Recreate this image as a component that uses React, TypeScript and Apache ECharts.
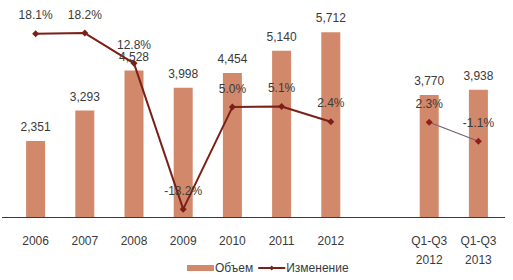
import React, { useEffect, useRef } from "react";
import * as echarts from "echarts";

const categories = ["2006", "2007", "2008", "2009", "2010", "2011", "2012", "", "Q1-Q3\n2012", "Q1-Q3\n2013"];
const volume: (number | string)[] = [2351, 3293, 4528, 3998, 4454, 5140, 5712, "-", 3770, 3938];
const changeYearly: (number | string)[] = [18.1, 18.2, 12.8, -13.2, 5.0, 5.1, 2.4, "-", "-", "-"];
const changeQuarterly: (number | string)[] = ["-", "-", "-", "-", "-", "-", "-", "-", 2.3, -1.1];

const FONT = "'Liberation Sans', Arial, sans-serif";
const TEXT = "#3a3a3a";

export default function App() {
  const ref = useRef<HTMLDivElement>(null);
  useEffect(() => {
    if (!ref.current) return;
    const chart = echarts.init(ref.current, null, { renderer: "svg" });
    chart.setOption({
      animation: false,
      textStyle: { fontFamily: FONT },
      grid: { left: 11, right: 10, top: 23, bottom: 63 },
      legend: {
        left: 182,
        top: 257,
        itemWidth: 27,
        itemHeight: 6,
        itemGap: 4,
        textStyle: { fontFamily: FONT, fontSize: 12, color: TEXT, padding: [0, 0, 0, -4] },
        data: [
          { name: "Объем", icon: "rect" },
          { name: "Изменение" },
        ],
      },
      xAxis: {
        type: "category",
        data: categories,
        axisTick: { show: false },
        axisLine: { show: false },
        axisLabel: {
          interval: 0,
          margin: 14,
          fontSize: 12,
          lineHeight: 19,
          color: TEXT,
          fontFamily: FONT,
        },
      },
      yAxis: [
        { type: "value", min: 0, max: 6000, show: false, splitLine: { show: false } },
        { type: "value", min: -14.6, max: 20, show: false, splitLine: { show: false } },
      ],
      graphic: [
        {
          type: "line",
          shape: { x1: 2, y1: 217.5, x2: 505, y2: 217.5 },
          style: { stroke: "#3a3a3a", lineWidth: 1.2 },
          z: 10,
        },
      ],
      series: [
        {
          name: "Объем",
          type: "bar",
          data: volume,
          barWidth: 19,
          itemStyle: { color: "#D2896B" },
          label: {
            show: true,
            position: "top",
            distance: 8,
            fontSize: 12,
            color: TEXT,
            fontFamily: FONT,
            formatter: (p: any) => Number(p.value).toLocaleString("en-US"),
          },
        },
        {
          name: "Изменение",
          type: "line",
          yAxisIndex: 1,
          data: changeYearly,
          connectNulls: false,
          symbol: "diamond",
          symbolSize: 7,
          lineStyle: { color: "#7B2018", width: 2 },
          itemStyle: { color: "#7B2018" },
          label: {
            show: true,
            position: "top",
            distance: 9,
            fontSize: 12,
            color: TEXT,
            fontFamily: FONT,
            formatter: (p: any) => Number(p.value).toFixed(1) + "%",
          },
          z: 5,
        },
        {
          name: "Изменение Q",
          type: "line",
          yAxisIndex: 1,
          data: changeQuarterly,
          connectNulls: false,
          symbol: "diamond",
          symbolSize: 7,
          lineStyle: { color: "#6f6270", width: 1.2 },
          itemStyle: { color: "#8B2018" },
          label: {
            show: true,
            position: "top",
            distance: 9,
            fontSize: 12,
            color: TEXT,
            fontFamily: FONT,
            formatter: (p: any) => Number(p.value).toFixed(1) + "%",
          },
          z: 5,
        },
      ],
    });
    return () => chart.dispose();
  }, []);
  return <div ref={ref} style={{ width: 513, height: 280, position: "absolute", left: 0, top: 0 }} />;
}
